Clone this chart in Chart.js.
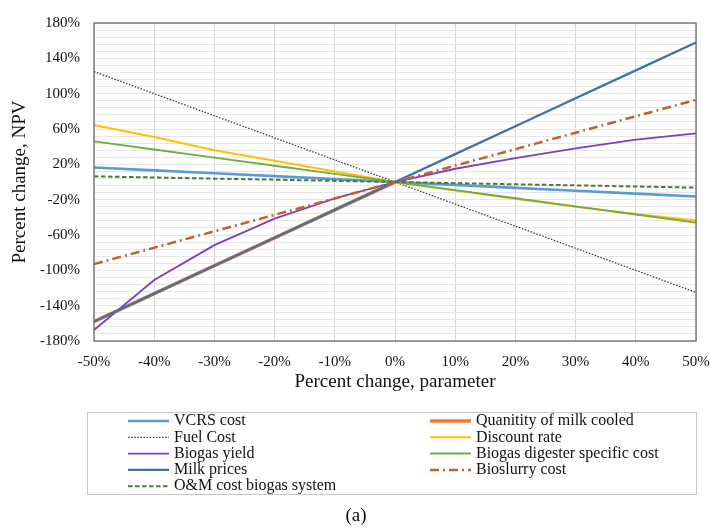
<!DOCTYPE html>
<html>
<head>
<meta charset="utf-8">
<script src="https://cdn.jsdelivr.net/npm/chart.js@4/dist/chart.umd.min.js"></script>
<style>
  html, body { margin: 0; padding: 0; background: #ffffff; }
  #wrap { width: 710px; height: 531px; position: relative; }
</style>
</head>
<body>
<div id="wrap"><canvas id="c" width="710" height="531"></canvas></div>
<script>
// Sensitivity of NPV (%) to a change in each input parameter (%)
const parameterChange = ['-50%', '-40%', '-30%', '-20%', '-10%', '0%', '10%', '20%', '30%', '40%', '50%'];

const vcrsCost        = [16.5, 13.2, 9.9, 6.6, 3.3, 0, -3.3, -6.6, -9.9, -13.2, -16.5];
const milkCooled      = [-158, -126.4, -94.8, -63.2, -31.6, 0, null, null, null, null, null];
const fuelCost        = [125, 100, 75, 50, 25, 0, -25, -50, -75, -100, -125];
const discountRate    = [64.5, 51, 36, 24, 12, 0, -9.5, -19, -28, -36.3, -43.5];
const biogasYield     = [-167.5, -111, -71.5, -41.5, -18.5, 0, 15, 27, 38, 48, 55];
const digesterCost    = [46, 36.8, 27.6, 18.4, 9.2, 0, -9.2, -18.4, -27.6, -36.8, -46];
const milkPrices      = [-158, -126.4, -94.8, -63.2, -31.6, 0, 31.6, 63.2, 94.8, 126.4, 158];
const bioslurryCost   = [-93, -74.4, -55.8, -37.2, -18.6, 0, 18.6, 37.2, 55.8, 74.4, 93];
const omCost          = [6.4, 5.1, 3.8, 2.6, 1.3, 0, -1.3, -2.6, -3.8, -5.1, -6.4];

// Labelled y ticks; light grid lines fall every minorStep between them
const yTickValues = [-180, -140, -100, -60, -20, 20, 60, 100, 140, 180];
const minorStep = 8;

const seriesNames = [
  'VCRS cost', 'Quanitity of milk cooled', 'Fuel Cost', 'Discount rate',
  'Biogas yield', 'Biogas digester specific cost', 'Milk prices', 'Bioslurry cost',
  'O&M cost biogas system'
];
const seriesData = [vcrsCost, milkCooled, fuelCost, discountRate, biogasYield,
  digesterCost, milkPrices, bioslurryCost, omCost];
const seriesStyle = [
  { color: '#5B9BD5', width: 2.6, dash: [] },
  { color: '#ED7D31', width: 3.6, dash: [] },
  { color: '#3a3a3a', width: 1.3, dash: [1.5, 1.6] },
  { color: '#FFC000', width: 2, dash: [] },
  { color: '#7E3FC2', width: 1.8, dash: [] },
  { color: '#70AD47', width: 2, dash: [] },
  { color: '#44729E', width: 2.3, dash: [] },
  { color: '#C0622B', width: 2.5, dash: [9, 4, 2, 4] },
  { color: '#4E7A33', width: 2, dash: [4.5, 2.5] }
];

const serif = '"Liberation Serif", "Times New Roman", serif';

const datasets = seriesNames.map((name, i) => ({
  label: name,
  data: seriesData[i],
  borderColor: seriesStyle[i].color,
  backgroundColor: seriesStyle[i].color,
  borderWidth: seriesStyle[i].width,
  borderDash: seriesStyle[i].dash,
  pointRadius: 0,
  pointHoverRadius: 0,
  tension: 0,
  fill: false,
  spanGaps: false,
  borderCapStyle: 'butt',
  // later series are painted over earlier ones
  order: seriesNames.length - i
}));

// Frame around the plotting area
const frame = {
  id: 'frame',
  afterDatasetsDraw(chart) {
    const { ctx, chartArea: a } = chart;
    ctx.save();
    ctx.strokeStyle = '#6b6b6b';
    ctx.lineWidth = 1.3;
    ctx.strokeRect(a.left, a.top, a.right - a.left, a.bottom - a.top);
    ctx.restore();
  }
};

// Two-column boxed legend and panel caption under the axes
const boxedLegend = {
  id: 'boxedLegend',
  afterDraw(chart) {
    const ctx = chart.ctx;
    ctx.save();
    ctx.strokeStyle = '#c8c8c8';
    ctx.lineWidth = 1;
    ctx.strokeRect(87.5, 412.5, 609, 82);
    const rowY0 = 421, rowH = 16.3;
    const cols = [{ lx: 128, tx: 174 }, { lx: 430, tx: 476 }];
    ctx.font = '16px ' + serif;
    ctx.textBaseline = 'middle';
    ctx.textAlign = 'left';
    seriesNames.forEach((name, i) => {
      const col = cols[i % 2];
      const y = rowY0 + Math.floor(i / 2) * rowH;
      const st = seriesStyle[i];
      ctx.beginPath();
      ctx.strokeStyle = st.color;
      ctx.lineWidth = st.width;
      ctx.setLineDash(st.dash);
      ctx.moveTo(col.lx, y);
      ctx.lineTo(col.lx + 41, y);
      ctx.stroke();
      ctx.setLineDash([]);
      ctx.fillStyle = '#111111';
      ctx.fillText(name, col.tx, y);
    });
    ctx.font = '19px ' + serif;
    ctx.textAlign = 'center';
    ctx.fillText('(a)', 356, 516);
    ctx.restore();
  }
};

new Chart(document.getElementById('c'), {
  type: 'line',
  data: { labels: parameterChange, datasets },
  options: {
    responsive: false,
    animation: false,
    events: [],
    layout: { padding: { left: 0, top: 19, right: 14, bottom: 138 } },
    plugins: { legend: { display: false }, tooltip: { enabled: false } },
    scales: {
      x: {
        type: 'category',
        offset: false,
        afterFit(scale) {
          scale.height = 52;
          scale.paddingLeft = 0;
          scale.paddingRight = 0;
        },
        grid: { color: '#d6d6d6', lineWidth: 1, drawTicks: false },
        border: { display: false },
        ticks: {
          color: '#111111', padding: 12, maxRotation: 0, autoSkip: false,
          font: { family: serif, size: 15 }
        },
        title: {
          display: true, text: 'Percent change, parameter', color: '#111111',
          font: { family: serif, size: 19 }, padding: { top: 0, bottom: 0 }
        }
      },
      y: {
        min: yTickValues[0],
        max: yTickValues[yTickValues.length - 1],
        afterFit(scale) { scale.width = 94; },
        afterBuildTicks(scale) {
          const ticks = [];
          const lo = yTickValues[0], hi = yTickValues[yTickValues.length - 1];
          for (let v = lo; v <= hi + 1e-9; v += minorStep) ticks.push({ value: v });
          scale.ticks = ticks;
        },
        grid: { color: '#e6e6e6', lineWidth: 1, drawTicks: false },
        border: { display: false },
        ticks: {
          color: '#111111', padding: 14, autoSkip: false,
          font: { family: serif, size: 15 },
          callback(v) { return yTickValues.includes(v) ? v + '%' : ''; }
        },
        title: {
          display: true, text: 'Percent change, NPV', color: '#111111',
          font: { family: serif, size: 19 }, padding: { top: 9, bottom: 0 }
        }
      }
    }
  },
  plugins: [frame, boxedLegend]
});
</script>
</body>
</html>
